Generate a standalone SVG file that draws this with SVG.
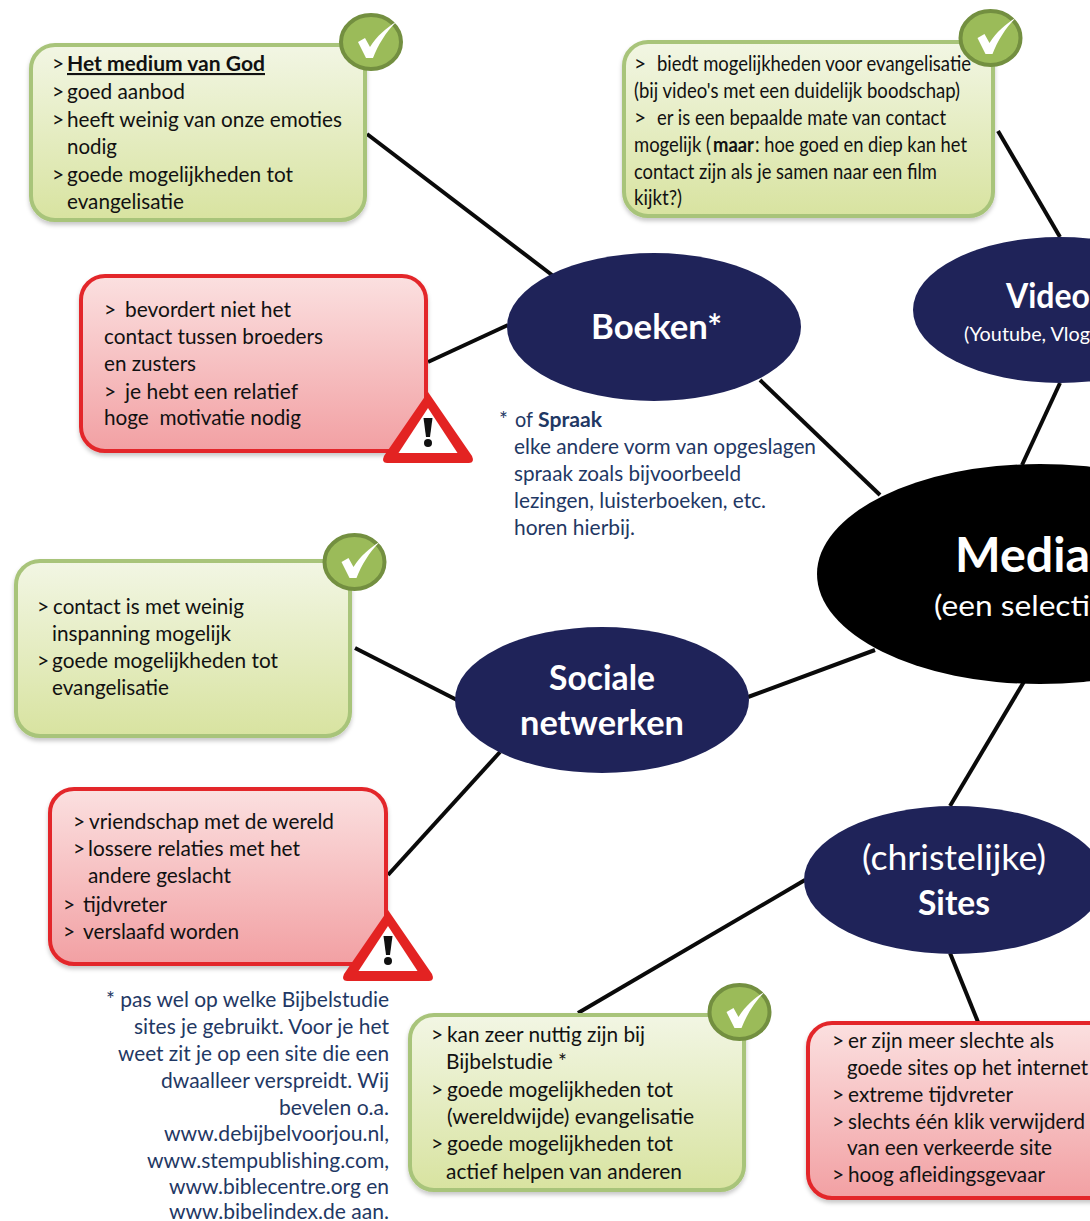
<svg xmlns="http://www.w3.org/2000/svg" width="1090" height="1221" viewBox="0 0 1090 1221">
<style>
text{font-family:"Lato","Carlito","Liberation Sans",sans-serif;font-size:21px;fill:#111}
.note{fill:#1f3864}
.w{fill:#fff;font-weight:700;font-size:34px}
.wr{fill:#fff;font-weight:400;font-size:34px}
.sub{fill:#fff;font-size:20px}
.b{font-weight:700}
.g{fill:url(#gg);stroke:#a8c47a;stroke-width:4;filter:url(#sh)}
.r{fill:url(#rg);stroke:#e3282b;stroke-width:4;filter:url(#sh)}
.e{fill:#1f2359}
.c{stroke:#0a0a0a;stroke-width:4;fill:none}
.ck{fill:#9bbb59;stroke:#738f40;stroke-width:4}
.ckm{fill:#fff}
</style>
<defs>
<linearGradient id="gg" x1="0" y1="0" x2="0" y2="1"><stop offset="0" stop-color="#f2f6e4"/><stop offset="1" stop-color="#d8e3a0"/></linearGradient>
<linearGradient id="rg" x1="0" y1="0" x2="0" y2="1"><stop offset="0" stop-color="#fbe0e0"/><stop offset="1" stop-color="#f2a0a3"/></linearGradient>
<filter id="sh" x="-5%" y="-5%" width="110%" height="112%"><feDropShadow dx="0" dy="3" stdDeviation="2" flood-color="#000" flood-opacity=".22"/></filter>
<g id="check"><ellipse rx="30" ry="27" class="ck"/><path class="ckm" d="M-13,0 L-6,-4 L-1,5 C6,-6 15,-14 25,-20 C15,-10 7,3 2,16 L-5,16 Z"/></g>
<g id="warn"><path fill="#e32322" d="M0,0 L44,64 Q47,71 41,71 L-41,71 Q-47,71 -44,64 Z"/><path fill="#fff" d="M0,16 L29.5,61 L-29.5,61 Z"/><path d="M-4.5,26 L4.5,26 L2,45 L-2,45 Z" fill="#111"/><circle cy="51" r="4" fill="#111"/></g>
</defs>
<g id="connectors">
<path class="c" d="M367,134 L552,275"/>
<path class="c" d="M428,362 L508,325"/>
<path class="c" d="M760,380 L880,495"/>
<path class="c" d="M998,131 L1060,237"/>
<path class="c" d="M1060,383 L1022,465"/>
<path class="c" d="M355,648 L457,700"/>
<path class="c" d="M500,752 L388,875"/>
<path class="c" d="M748,697 L875,650"/>
<path class="c" d="M1025,680 L950,806"/>
<path class="c" d="M805,880 L578,1013"/>
<path class="c" d="M950,953 L978,1022"/>
</g>
<g id="media"><ellipse cx="1040" cy="574" rx="223" ry="110" fill="#000"/>
<text x="955" y="572" style="font-size:47px;font-weight:700;fill:#fff" textLength="135" lengthAdjust="spacingAndGlyphs">Media</text>
<text x="934" y="616" style="font-size:29px;fill:#fff" textLength="156" lengthAdjust="spacingAndGlyphs">(een selecti</text></g>
<g id="boeken"><ellipse class="e" cx="654" cy="327" rx="147" ry="74"/><text class="w" x="591" y="339" textLength="131" lengthAdjust="spacingAndGlyphs">Boeken*</text></g>
<g id="video"><ellipse class="e" cx="1060" cy="310" rx="147" ry="73"/><text class="w" x="1006" y="308" textLength="84" lengthAdjust="spacingAndGlyphs">Video</text><text class="sub" x="964" y="341" textLength="126" lengthAdjust="spacingAndGlyphs">(Youtube, Vlog</text></g>
<g id="sociale"><ellipse class="e" cx="602" cy="700" rx="147" ry="73"/><text class="w" x="549" y="690" textLength="106" lengthAdjust="spacingAndGlyphs">Sociale</text><text class="w" x="520" y="735" textLength="164" lengthAdjust="spacingAndGlyphs">netwerken</text></g>
<g id="sites"><ellipse class="e" cx="954" cy="880" rx="150" ry="74"/><text class="wr" x="862" y="870" textLength="184" lengthAdjust="spacingAndGlyphs">(christelijke)</text><text class="w" x="918" y="915" textLength="72" lengthAdjust="spacingAndGlyphs">Sites</text></g>
<g id="boeken-plus"><rect class="g" x="31" y="45" width="334" height="175" rx="24"/>
<text x="52" y="71">&gt;</text><text class="b" x="67" y="71" textLength="198" lengthAdjust="spacingAndGlyphs" text-decoration="underline">Het medium van God</text>
<text x="52" y="99">&gt;</text><text x="67" y="99" textLength="118" lengthAdjust="spacingAndGlyphs">goed aanbod</text>
<text x="52" y="127">&gt;</text><text x="67" y="127" textLength="275" lengthAdjust="spacingAndGlyphs">heeft weinig van onze emoties</text>
<text x="67" y="154" textLength="50" lengthAdjust="spacingAndGlyphs">nodig</text>
<text x="52" y="182">&gt;</text><text x="67" y="182" textLength="226" lengthAdjust="spacingAndGlyphs">goede mogelijkheden tot</text>
<text x="67" y="209" textLength="117" lengthAdjust="spacingAndGlyphs">evangelisatie</text></g>
<use href="#check" x="371" y="42"/>
<g id="boeken-min"><rect class="r" x="81" y="276" width="345" height="175" rx="24"/>
<text x="104" y="317">&gt;</text><text x="125" y="317" textLength="166" lengthAdjust="spacingAndGlyphs">bevordert niet het</text>
<text x="104" y="344" textLength="219" lengthAdjust="spacingAndGlyphs">contact tussen broeders</text>
<text x="104" y="371" textLength="92" lengthAdjust="spacingAndGlyphs">en zusters</text>
<text x="104" y="399">&gt;</text><text x="125" y="399" textLength="173" lengthAdjust="spacingAndGlyphs">je hebt een relatief</text>
<text x="104" y="425" textLength="197" lengthAdjust="spacingAndGlyphs" xml:space="preserve">hoge  motivatie nodig</text></g>
<use href="#warn" x="428" y="392"/>
<g id="video-plus"><rect class="g" x="624" y="42" width="369" height="174" rx="24"/>
<text x="634" y="71">&gt;</text><text x="657" y="71" textLength="314" lengthAdjust="spacingAndGlyphs">biedt mogelijkheden voor evangelisatie</text>
<text x="634" y="98" textLength="326" lengthAdjust="spacingAndGlyphs">(bij video's met een duidelijk boodschap)</text>
<text x="634" y="125">&gt;</text><text x="657" y="125" textLength="289" lengthAdjust="spacingAndGlyphs">er is een bepaalde mate van contact</text>
<text x="634" y="152" textLength="77" lengthAdjust="spacingAndGlyphs">mogelijk (</text><text class="b" x="713" y="152" textLength="41" lengthAdjust="spacingAndGlyphs">maar</text><text x="755" y="152" textLength="212" lengthAdjust="spacingAndGlyphs">: hoe goed en diep kan het</text>
<text x="634" y="179" textLength="303" lengthAdjust="spacingAndGlyphs">contact zijn als je samen naar een film</text>
<text x="634" y="205" textLength="48" lengthAdjust="spacingAndGlyphs">kijkt?)</text></g>
<use href="#check" x="990.500" y="38"/>
<g id="boeken-note">
<text class="note" x="499" y="427">*</text><text class="note" x="515" y="427" textLength="18" lengthAdjust="spacingAndGlyphs">of</text><text class="note b" x="538" y="427" textLength="64" lengthAdjust="spacingAndGlyphs">Spraak</text>
<text class="note" x="514" y="454" textLength="302" lengthAdjust="spacingAndGlyphs">elke andere vorm van opgeslagen</text>
<text class="note" x="514" y="481" textLength="227" lengthAdjust="spacingAndGlyphs">spraak zoals bijvoorbeeld</text>
<text class="note" x="514" y="508" textLength="252" lengthAdjust="spacingAndGlyphs">lezingen, luisterboeken, etc.</text>
<text class="note" x="514" y="535" textLength="121" lengthAdjust="spacingAndGlyphs">horen hierbij.</text></g>
<g id="sociale-plus"><rect class="g" x="16" y="561" width="334" height="175" rx="24"/>
<text x="37" y="614">&gt;</text><text x="53" y="614" textLength="191" lengthAdjust="spacingAndGlyphs">contact is met weinig</text>
<text x="52" y="641" textLength="179" lengthAdjust="spacingAndGlyphs">inspanning mogelijk</text>
<text x="37" y="668">&gt;</text><text x="52" y="668" textLength="226" lengthAdjust="spacingAndGlyphs">goede mogelijkheden tot</text>
<text x="52" y="695" textLength="117" lengthAdjust="spacingAndGlyphs">evangelisatie</text></g>
<use href="#check" x="354.500" y="562"/>
<g id="sociale-min"><rect class="r" x="50" y="789" width="336" height="175" rx="24"/>
<text x="73" y="829">&gt;</text><text x="89" y="829" textLength="245" lengthAdjust="spacingAndGlyphs">vriendschap met de wereld</text>
<text x="73" y="856">&gt;</text><text x="88" y="856" textLength="212" lengthAdjust="spacingAndGlyphs">lossere relaties met het</text>
<text x="88" y="883" textLength="143" lengthAdjust="spacingAndGlyphs">andere geslacht</text>
<text x="63" y="912">&gt;</text><text x="83" y="912" textLength="84" lengthAdjust="spacingAndGlyphs">tijdvreter</text>
<text x="63" y="939">&gt;</text><text x="83" y="939" textLength="156" lengthAdjust="spacingAndGlyphs">verslaafd worden</text></g>
<use href="#warn" x="388" y="910"/>
<g id="sites-note">
<text class="note" x="106" y="1007" textLength="283" lengthAdjust="spacingAndGlyphs">* pas wel op welke Bijbelstudie</text>
<text class="note" x="134" y="1034" textLength="255" lengthAdjust="spacingAndGlyphs">sites je gebruikt. Voor je het</text>
<text class="note" x="118" y="1061" textLength="271" lengthAdjust="spacingAndGlyphs">weet zit je op een site die een</text>
<text class="note" x="161" y="1088" textLength="228" lengthAdjust="spacingAndGlyphs">dwaalleer verspreidt. Wij</text>
<text class="note" x="279" y="1115" textLength="110" lengthAdjust="spacingAndGlyphs">bevelen o.a.</text>
<text class="note" x="164" y="1141" textLength="225" lengthAdjust="spacingAndGlyphs">www.debijbelvoorjou.nl,</text>
<text class="note" x="147" y="1168" textLength="242" lengthAdjust="spacingAndGlyphs">www.stempublishing.com,</text>
<text class="note" x="169" y="1194" textLength="220" lengthAdjust="spacingAndGlyphs">www.biblecentre.org en</text>
<text class="note" x="169" y="1219" textLength="220" lengthAdjust="spacingAndGlyphs">www.bibelindex.de aan.</text></g>
<g id="sites-plus"><rect class="g" x="410" y="1015" width="334" height="175" rx="24"/>
<text x="431" y="1042">&gt;</text><text x="447" y="1042" textLength="198" lengthAdjust="spacingAndGlyphs">kan zeer nuttig zijn bij</text>
<text x="446" y="1069" textLength="121" lengthAdjust="spacingAndGlyphs">Bijbelstudie *</text>
<text x="431" y="1097">&gt;</text><text x="447" y="1097" textLength="226" lengthAdjust="spacingAndGlyphs">goede mogelijkheden tot</text>
<text x="447" y="1124" textLength="247" lengthAdjust="spacingAndGlyphs">(wereldwijde) evangelisatie</text>
<text x="431" y="1151">&gt;</text><text x="447" y="1151" textLength="226" lengthAdjust="spacingAndGlyphs">goede mogelijkheden tot</text>
<text x="446" y="1179" textLength="236" lengthAdjust="spacingAndGlyphs">actief helpen van anderen</text></g>
<use href="#check" x="739.500" y="1012"/>
<g id="sites-min"><rect class="r" x="808" y="1023" width="320" height="175" rx="24"/>
<text x="832" y="1048">&gt;</text><text x="848" y="1048" textLength="206" lengthAdjust="spacingAndGlyphs">er zijn meer slechte als</text>
<text x="847" y="1075" textLength="241" lengthAdjust="spacingAndGlyphs">goede sites op het internet</text>
<text x="832" y="1102">&gt;</text><text x="848" y="1102" textLength="165" lengthAdjust="spacingAndGlyphs">extreme tijdvreter</text>
<text x="832" y="1129">&gt;</text><text x="848" y="1129" textLength="237" lengthAdjust="spacingAndGlyphs">slechts één klik verwijderd</text>
<text x="847" y="1155" textLength="205" lengthAdjust="spacingAndGlyphs">van een verkeerde site</text>
<text x="832" y="1182">&gt;</text><text x="848" y="1182" textLength="197" lengthAdjust="spacingAndGlyphs">hoog afleidingsgevaar</text></g>
</svg>
